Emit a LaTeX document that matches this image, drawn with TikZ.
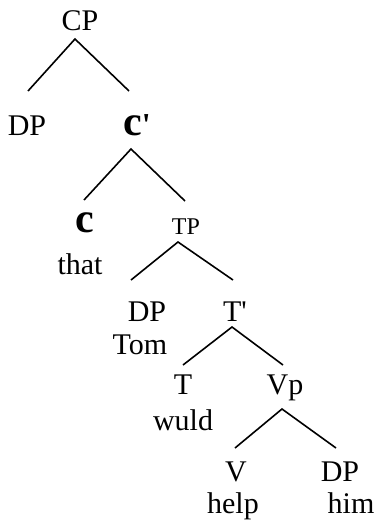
\documentclass[tikz,border=0pt]{standalone}
\usepackage{fontspec}
\setmainfont{Liberation Serif}
\begin{document}
\begin{tikzpicture}[x=1pt,y=-1pt,
  lab/.style={anchor=base,inner sep=0pt,font=\fontsize{30}{32}\selectfont},
  small/.style={lab,font=\fontsize{24}{26}\selectfont},
  big/.style={anchor=base,inner sep=0pt,font=\bfseries\fontsize{42}{44}\selectfont},
  branch/.style={line width=1.6pt,line cap=butt}]
\useasboundingbox (0,0) rectangle (376,523);
% labels
\node[lab] (cp) at (80,30) {CP};
\node[lab] (dpA) at (27,135) {DP};
\node[big,anchor=base west] (cbar) at (123,135) {c\fontsize{32}{34}\selectfont\textquotesingle};
\node[big] (c) at (85,232) {c};
\node[lab] (that) at (80,274) {that};
\node[small] (tp) at (186,234) {TP};
\node[lab] (dpB) at (147,321) {DP};
\node[lab] (tom) at (140,354) {Tom};
\node[lab] (tbar) at (235,321) {T\textquotesingle};
\node[lab] (t) at (183,394) {T};
\node[lab] (vp) at (285,394) {Vp};
\node[lab] (wuld) at (183,430) {wuld};
\node[lab] (v) at (236,481) {V};
\node[lab] (dpC) at (340,481) {DP};
\node[lab] (help) at (233,513) {help};
\node[lab] (him) at (351,513) {him};
% branch points
\coordinate (cp-b) at (75,39);
\coordinate (dpA-t) at (28,91);
\coordinate (cbar-t) at (129,91);
\coordinate (cbar-b) at (131,149);
\coordinate (c-t) at (84,200);
\coordinate (tp-t) at (185,201);
\coordinate (tp-b) at (178,242);
\coordinate (dpB-t) at (131,280);
\coordinate (tbar-t) at (233,280);
\coordinate (tbar-b) at (232,327);
\coordinate (t-t) at (183,365);
\coordinate (vp-t) at (283,365);
\coordinate (vp-b) at (282,409);
\coordinate (v-t) at (235,448);
\coordinate (dpC-t) at (336,448);
% branches
\draw[branch] (dpA-t) -- (cp-b) -- (cbar-t);
\draw[branch] (c-t) -- (cbar-b) -- (tp-t);
\draw[branch] (dpB-t) -- (tp-b) -- (tbar-t);
\draw[branch] (t-t) -- (tbar-b) -- (vp-t);
\draw[branch] (v-t) -- (vp-b) -- (dpC-t);
\end{tikzpicture}
\end{document}
